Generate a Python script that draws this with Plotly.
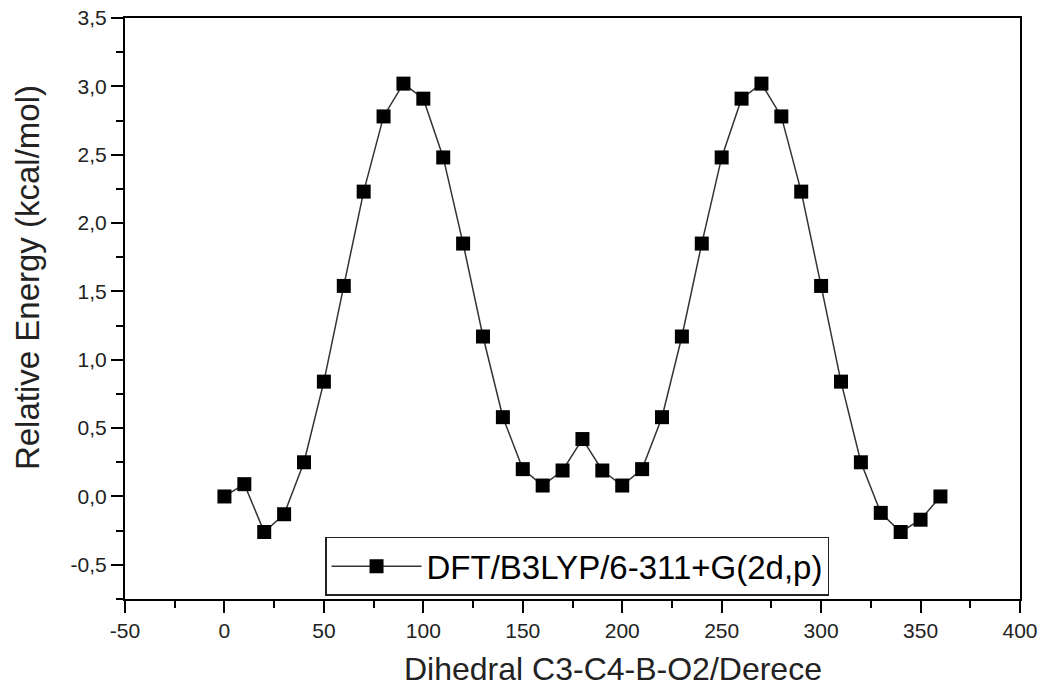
import plotly.graph_objects as go

dihedral = [0, 10, 20, 30, 40, 50, 60, 70, 80, 90, 100, 110, 120, 130, 140, 150, 160, 170, 180,
            190, 200, 210, 220, 230, 240, 250, 260, 270, 280, 290, 300, 310, 320, 330, 340, 350, 360]
energy = [0.00, 0.09, -0.26, -0.13, 0.25, 0.84, 1.54, 2.23, 2.78, 3.02, 2.91, 2.48, 1.85, 1.17, 0.58,
          0.20, 0.08, 0.19, 0.42, 0.19, 0.08, 0.20, 0.58, 1.17, 1.85, 2.48, 2.91, 3.02, 2.78, 2.23,
          1.54, 0.84, 0.25, -0.12, -0.26, -0.17, 0.00]
series_name = "DFT/B3LYP/6-311+G(2d,p)"
x_title = "Dihedral C3-C4-B-O2/Derece"
y_title = "Relative Energy (kcal/mol)"

x_tick_vals = [-50, 0, 50, 100, 150, 200, 250, 300, 350, 400]
x_tick_text = ["-50", "0", "50", "100", "150", "200", "250", "300", "350", "400"]
y_tick_vals = [-0.5, 0.0, 0.5, 1.0, 1.5, 2.0, 2.5, 3.0, 3.5]
y_tick_text = ["-0,5", "0,0", "0,5", "1,0", "1,5", "2,0", "2,5", "3,0", "3,5"]

FONT = "Liberation Sans, Arial, sans-serif"

fig = go.Figure()
fig.add_trace(go.Scatter(
    x=dihedral, y=energy, mode="lines+markers", name=series_name,
    line=dict(color="#333333", width=1.5),
    marker=dict(symbol="square", size=14, color="black"),
))

# page body has an 8px margin, so the figure is sized/offset to compensate
fig.update_layout(
    width=1043, height=679,
    margin=dict(l=117, r=31, t=10, b=88),
    paper_bgcolor="white", plot_bgcolor="white",
    font=dict(family=FONT, color="#222222"),
    showlegend=True,
    legend=dict(
        x=0.2235, y=0.107, xanchor="left", yanchor="top",
        bordercolor="#222222", borderwidth=1.5, bgcolor="white",
        font=dict(size=33, color="black", family=FONT),
        itemwidth=90,
    ),
    xaxis=dict(
        range=[-50, 400], automargin=False, ticklabeloverflow="allow",
        tickmode="array", tickvals=x_tick_vals, ticktext=x_tick_text,
        ticks="outside", ticklen=12, tickwidth=2, tickcolor="black",
        minor=dict(ticks="outside", ticklen=7, tickwidth=2, tickcolor="black", dtick=25, tick0=-50),
        showline=True, linecolor="black", linewidth=2, mirror=True,
        showgrid=False, zeroline=False,
        tickfont=dict(size=21, color="#222222"),
    ),
    yaxis=dict(
        range=[-0.75, 3.5], automargin=False, ticklabeloverflow="allow",
        tickmode="array", tickvals=y_tick_vals, ticktext=y_tick_text,
        ticks="outside", ticklen=12, tickwidth=2, tickcolor="black",
        minor=dict(ticks="outside", ticklen=7, tickwidth=2, tickcolor="black", dtick=0.25, tick0=-0.75),
        showline=True, linecolor="black", linewidth=2, mirror=True,
        showgrid=False, zeroline=False,
        tickfont=dict(size=21, color="#222222"),
    ),
    annotations=[
        dict(text=x_title, xref="paper", yref="paper", x=0.5447, y=-0.1205,
             xanchor="center", yanchor="middle", showarrow=False,
             font=dict(size=32, color="#222222", family=FONT)),
        dict(text=y_title, xref="paper", yref="paper", x=-0.1095, y=0.554,
             xanchor="center", yanchor="middle", showarrow=False, textangle=-90,
             font=dict(size=33, color="#222222", family=FONT)),
    ],
)

fig.write_html("out.html")
